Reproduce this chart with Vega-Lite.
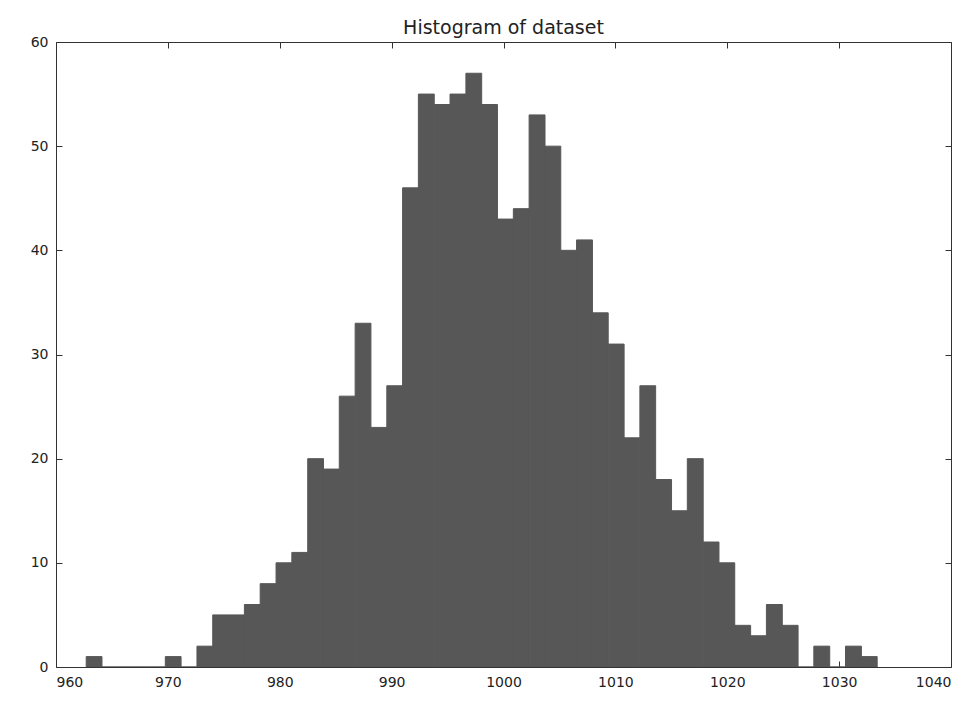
{
  "$schema": "https://vega.github.io/schema/vega-lite/v6.json",
  "width": 895,
  "height": 625,
  "autosize": {"type": "none"},
  "padding": {"left": 56, "top": 42, "right": 21, "bottom": 48},
  "background": "white",
  "title": {
    "text": "Histogram of dataset",
    "font": "DejaVu Sans",
    "fontSize": 19,
    "fontWeight": "normal",
    "color": "#222222",
    "offset": -3,
    "anchor": "middle"
  },
  "config": {
    "view": {"stroke": "#333333", "strokeWidth": 1},
    "axis": {
      "domain": false,
      "grid": false,
      "ticks": true,
      "tickSize": -6,
      "tickColor": "#333333",
      "tickWidth": 1,
      "labelFont": "DejaVu Sans",
      "labelFontSize": 14,
      "labelColor": "#222222",
      "title": null
    }
  },
  "data": {
    "values": [
      {"bin_start": 962.70, "bin_end": 964.11, "count": 1},
      {"bin_start": 964.11, "bin_end": 965.53, "count": 0},
      {"bin_start": 965.53, "bin_end": 966.94, "count": 0},
      {"bin_start": 966.94, "bin_end": 968.36, "count": 0},
      {"bin_start": 968.36, "bin_end": 969.77, "count": 0},
      {"bin_start": 969.77, "bin_end": 971.18, "count": 1},
      {"bin_start": 971.18, "bin_end": 972.60, "count": 0},
      {"bin_start": 972.60, "bin_end": 974.01, "count": 2},
      {"bin_start": 974.01, "bin_end": 975.43, "count": 5},
      {"bin_start": 975.43, "bin_end": 976.84, "count": 5},
      {"bin_start": 976.84, "bin_end": 978.25, "count": 6},
      {"bin_start": 978.25, "bin_end": 979.67, "count": 8},
      {"bin_start": 979.67, "bin_end": 981.08, "count": 10},
      {"bin_start": 981.08, "bin_end": 982.50, "count": 11},
      {"bin_start": 982.50, "bin_end": 983.91, "count": 20},
      {"bin_start": 983.91, "bin_end": 985.32, "count": 19},
      {"bin_start": 985.32, "bin_end": 986.74, "count": 26},
      {"bin_start": 986.74, "bin_end": 988.15, "count": 33},
      {"bin_start": 988.15, "bin_end": 989.57, "count": 23},
      {"bin_start": 989.57, "bin_end": 990.98, "count": 27},
      {"bin_start": 990.98, "bin_end": 992.39, "count": 46},
      {"bin_start": 992.39, "bin_end": 993.81, "count": 55},
      {"bin_start": 993.81, "bin_end": 995.22, "count": 54},
      {"bin_start": 995.22, "bin_end": 996.64, "count": 55},
      {"bin_start": 996.64, "bin_end": 998.05, "count": 57},
      {"bin_start": 998.05, "bin_end": 999.46, "count": 54},
      {"bin_start": 999.46, "bin_end": 1000.88, "count": 43},
      {"bin_start": 1000.88, "bin_end": 1002.29, "count": 44},
      {"bin_start": 1002.29, "bin_end": 1003.71, "count": 53},
      {"bin_start": 1003.71, "bin_end": 1005.12, "count": 50},
      {"bin_start": 1005.12, "bin_end": 1006.53, "count": 40},
      {"bin_start": 1006.53, "bin_end": 1007.95, "count": 41},
      {"bin_start": 1007.95, "bin_end": 1009.36, "count": 34},
      {"bin_start": 1009.36, "bin_end": 1010.78, "count": 31},
      {"bin_start": 1010.78, "bin_end": 1012.19, "count": 22},
      {"bin_start": 1012.19, "bin_end": 1013.60, "count": 27},
      {"bin_start": 1013.60, "bin_end": 1015.02, "count": 18},
      {"bin_start": 1015.02, "bin_end": 1016.43, "count": 15},
      {"bin_start": 1016.43, "bin_end": 1017.85, "count": 20},
      {"bin_start": 1017.85, "bin_end": 1019.26, "count": 12},
      {"bin_start": 1019.26, "bin_end": 1020.67, "count": 10},
      {"bin_start": 1020.67, "bin_end": 1022.09, "count": 4},
      {"bin_start": 1022.09, "bin_end": 1023.50, "count": 3},
      {"bin_start": 1023.50, "bin_end": 1024.92, "count": 6},
      {"bin_start": 1024.92, "bin_end": 1026.33, "count": 4},
      {"bin_start": 1026.33, "bin_end": 1027.74, "count": 0},
      {"bin_start": 1027.74, "bin_end": 1029.16, "count": 2},
      {"bin_start": 1029.16, "bin_end": 1030.57, "count": 0},
      {"bin_start": 1030.57, "bin_end": 1031.99, "count": 2},
      {"bin_start": 1031.99, "bin_end": 1033.40, "count": 1}
    ]
  },
  "layer": [
    {
      "mark": {"type": "rect", "color": "#575757", "stroke": "#575757", "strokeWidth": 1, "clip": true},
      "encoding": {
        "x": {
          "field": "bin_start",
          "type": "quantitative",
          "scale": {"domain": [960, 1040], "nice": false, "zero": false},
          "axis": {"orient": "bottom", "values": [960, 970, 980, 990, 1000, 1010, 1020, 1030, 1040], "labelPadding": 14, "format": "d"}
        },
        "x2": {"field": "bin_end"},
        "y": {
          "field": "count",
          "type": "quantitative",
          "scale": {"domain": [0, 60], "nice": false},
          "axis": {"orient": "left", "values": [0, 10, 20, 30, 40, 50, 60], "labelPadding": 14}
        },
        "y2": {"datum": 0}
      }
    },
    {
      "mark": {"type": "rect", "opacity": 0},
      "encoding": {
        "x": {
          "field": "bin_start",
          "type": "quantitative",
          "scale": {"domain": [960, 1040], "nice": false, "zero": false},
          "axis": {"orient": "top", "values": [960, 970, 980, 990, 1000, 1010, 1020, 1030, 1040], "labels": false}
        },
        "x2": {"field": "bin_end"},
        "y": {
          "field": "count",
          "type": "quantitative",
          "scale": {"domain": [0, 60], "nice": false},
          "axis": {"orient": "right", "values": [0, 10, 20, 30, 40, 50, 60], "labels": false}
        },
        "y2": {"datum": 0}
      }
    }
  ],
  "resolve": {"axis": {"x": "independent", "y": "independent"}}
}
